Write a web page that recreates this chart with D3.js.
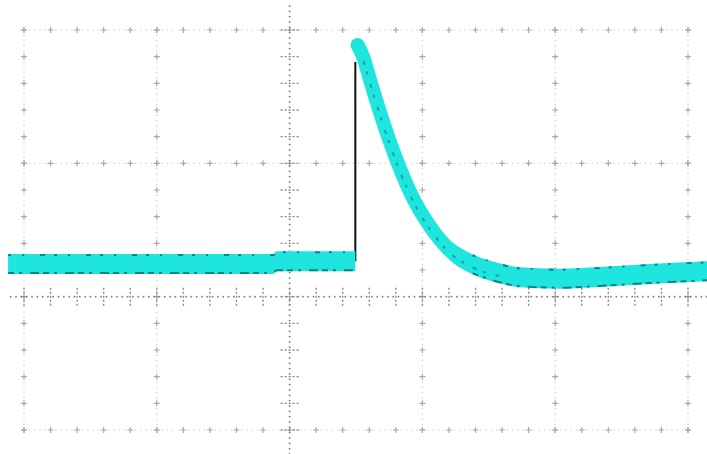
<!DOCTYPE html>
<html>
<head>
<meta charset="utf-8">
<script src="https://cdn.jsdelivr.net/npm/d3@7"></script>
<style>
  body { margin: 0; background: #fff; }
  svg { display: block; }
</style>
</head>
<body>
<svg width="707" height="454"></svg>
<script>
// scope capture, units are screen divisions (center = trigger point)
// before the edge
var preTimes = [-2.12, -0.12, -0.10, 0.495];
var preVolts = [0.245, 0.245, 0.265, 0.265];
// after the edge: peak and decay with small undershoot
var postTimes = [0.512, 0.557, 0.602, 0.678, 0.745, 0.836, 0.926, 1.069, 1.19, 1.378, 1.581, 1.732, 2.033, 2.334, 2.711, 3.15];
var postVolts = [1.888, 1.791, 1.638, 1.391, 1.19, 0.949, 0.746, 0.51, 0.365, 0.243, 0.176, 0.146, 0.135, 0.148, 0.17, 0.19];
var xDivs = [-2, -1, 0, 1, 2, 3];
var yDivs = [-1, 0, 1, 2];

var svg = d3.select("svg");
var x = d3.scaleLinear().domain([-2, 3]).range([24, 688]);
var y = d3.scaleLinear().domain([-1, 2]).range([430, 30]);

var pre = preTimes.map(function(t, i){ return [t, preVolts[i]]; });
var post = postTimes.map(function(t, i){ return [t, postVolts[i]]; });

//grid: faint dotted major lines with small crosses every minor step
var grid = svg.append("g");
xDivs.forEach(function(d){
  if (d === 0) return;
  d3.range(-1, 2.001, 0.04).forEach(function(v){
    grid.append("circle").attr("cx", x(d)).attr("cy", y(v)).attr("r", 0.8)
        .attr("fill", "#d6d6d6");
  });
  d3.range(-1, 2.001, 0.2).forEach(function(v){
    grid.append("path")
        .attr("d", "M" + (x(d) - 3) + "," + y(v) + "h6M" + x(d) + "," + (y(v) - 3) + "v6")
        .attr("stroke", "#aaa").attr("stroke-width", 1.2);
  });
});
yDivs.forEach(function(d){
  if (d === 0) return;
  d3.range(-2, 3.001, 0.04).forEach(function(t){
    grid.append("circle").attr("cx", x(t)).attr("cy", y(d)).attr("r", 0.8)
        .attr("fill", "#d6d6d6");
  });
  d3.range(-2, 3.001, 0.2).forEach(function(t){
    grid.append("path")
        .attr("d", "M" + (x(t) - 3) + "," + y(d) + "h6M" + x(t) + "," + (y(d) - 3) + "v6")
        .attr("stroke", "#aaa").attr("stroke-width", 1.2);
  });
});

//center axes with dense tick dots
var axes = svg.append("g");
d3.range(-2.1, 3.15, 0.04).forEach(function(t){
  axes.append("rect").attr("x", x(t) - 0.8).attr("y", y(0) - 0.8)
      .attr("width", 1.6).attr("height", 1.6).attr("fill", "#777");
});
d3.range(-1.62, 2.2, 0.04).forEach(function(v){
  axes.append("rect").attr("x", x(0) - 0.8).attr("y", y(v) - 0.8)
      .attr("width", 1.6).attr("height", 1.6).attr("fill", "#777");
});
d3.range(-2, 3.001, 0.2).forEach(function(t){
  axes.append("line").attr("x1", x(t)).attr("x2", x(t))
      .attr("y1", y(0) - 9).attr("y2", y(0) + 9)
      .attr("stroke", "#888").attr("stroke-width", 1.4).attr("stroke-dasharray", "2,2");
});
d3.range(-1.6, 2.2, 0.2).forEach(function(v){
  axes.append("line").attr("x1", x(0) - 9).attr("x2", x(0) + 9)
      .attr("y1", y(v)).attr("y2", y(v))
      .attr("stroke", "#888").attr("stroke-width", 1.4).attr("stroke-dasharray", "2,2");
});

//rising edge (dark persistence line)
svg.append("line")
   .attr("x1", x(0.495)).attr("x2", x(0.495))
   .attr("y1", y(0.265)).attr("y2", y(1.76))
   .attr("stroke", "#111").attr("stroke-width", 2);

//trace band
var area = d3.area()
  .x(function(d){ return x(d[0]); })
  .y0(function(d){ return y(d[1]) + 10; })
  .y1(function(d){ return y(d[1]) - 10; })
  .curve(d3.curveMonotoneX);
var line = d3.line()
  .x(function(d){ return x(d[0]); })
  .y(function(d){ return y(d[1]); })
  .curve(d3.curveMonotoneX);

var cyan = "#1fe5df";
svg.append("path").datum(pre).attr("d", area).attr("fill", cyan);
svg.append("path").datum(post.slice(6)).attr("d", area).attr("fill", cyan);
svg.append("path").datum(post).attr("d", line)
   .attr("fill", "none").attr("stroke", cyan).attr("stroke-width", 14)
   .attr("stroke-linecap", "round").attr("stroke-linejoin", "round");

//dark speckle along band edges
var edge = function(off){
  return d3.line()
    .x(function(d){ return x(d[0]); })
    .y(function(d){ return y(d[1]) + off; })
    .curve(d3.curveMonotoneX);
};
[pre, post.slice(9)].forEach(function(seg){
  svg.append("path").datum(seg).attr("d", edge(-9)).attr("fill", "none")
     .attr("stroke", "#0d6b68").attr("stroke-width", 2).attr("opacity", 0.8)
     .attr("stroke-dasharray", "3,11,2,16,5,9");
  svg.append("path").datum(seg).attr("d", edge(9)).attr("fill", "none")
     .attr("stroke", "#0d6b68").attr("stroke-width", 2).attr("opacity", 0.8)
     .attr("stroke-dasharray", "6,5,3,8,9,4");
});
svg.append("path").datum(post.slice(1, 11)).attr("d", edge(3)).attr("fill", "none")
   .attr("stroke", "#0d6b68").attr("stroke-width", 2).attr("stroke-dasharray", "4,7,3,10")
   .attr("opacity", 0.55);
</script>
</body>
</html>
